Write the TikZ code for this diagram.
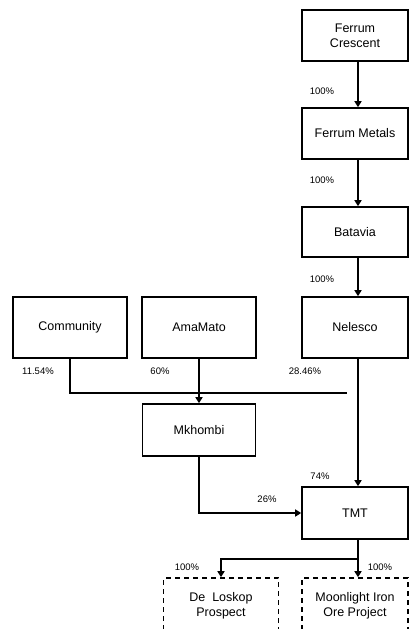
\documentclass[tikz,border=0pt]{standalone}
\usepackage{fontspec}
\setmainfont{Liberation Sans}
\usetikzlibrary{arrows.meta}
\begin{document}
\begin{tikzpicture}[x=1pt,y=-1pt,
  box/.style={draw=black,line width=1.6pt,fill=white,minimum width=106pt,minimum height=51pt,inner sep=1pt,align=center,font=\fontsize{12.5}{15}\selectfont},
  dbox/.style={box,dash pattern=on 5pt off 4pt},
  pct/.style={font=\fontsize{9.5}{11}\selectfont,inner sep=0pt},
  ln/.style={line width=1.6pt},
  arr/.style={ln,-{Triangle[width=7pt,length=6pt]}}]
\useasboundingbox (0,0) rectangle (409,629);
\node[box] (fc) at (355,35.5) {Ferrum\\Crescent};
\node[box] (fm) at (355,133.5) {Ferrum Metals};
\node[box,minimum height=50pt] (bat) at (355,232) {Batavia};
\node[box,minimum height=61pt] (nel) at (355,327.5) {Nelesco};
\node[box,minimum height=61pt,minimum width=114pt] (com) at (70,327.5) {Community};
\node[box,minimum height=61pt,minimum width=114pt] (ama) at (199,327.5) {AmaMato};
\node[box,minimum height=52pt,minimum width=113pt] (mk) at (199,430) {Mkhombi};
\node[box,minimum height=52pt] (tmt) at (355,513) {TMT};
\node[dbox,minimum height=56pt,minimum width=115pt] (dl) at (221,606) {De~~Loskop\\Prospect};
\node[dbox,minimum height=56pt] (moon) at (355,606) {Moonlight Iron\\Ore Project};
\coordinate (cend) at (347,393);
\coordinate (split) at ([xshift=3pt]tmt.south |- 0,559);
\draw[arr] ([xshift=3pt]fc.south) -- ([xshift=3pt]fm.north);
\draw[arr] ([xshift=3pt]fm.south) -- ([xshift=3pt]bat.north);
\draw[arr] ([xshift=3pt]bat.south) -- ([xshift=3pt]nel.north);
\draw[arr] ([xshift=3pt]nel.south) -- ([xshift=3pt]tmt.north);
\draw[ln] (com.south) |- (cend);
\draw[arr] (ama.south) -- (mk.north);
\draw[arr] (mk.south) |- (tmt.west);
\draw[arr] ([xshift=3pt]tmt.south) -- ([xshift=3pt]moon.north);
\draw[arr] (split) -| (dl.north);
\node[pct] (p1) at (322,91) {100\%};
\node[pct] (p2) at (322,180) {100\%};
\node[pct] (p3) at (322,279) {100\%};
\node[pct] (p4) at (38,371) {11.54\%};
\node[pct] (p5) at (160,371) {60\%};
\node[pct] (p6) at (305,371) {28.46\%};
\node[pct] (p7) at (320,476) {74\%};
\node[pct] (p8) at (267,499) {26\%};
\node[pct] (p9) at (187,567) {100\%};
\node[pct] (p10) at (380,567) {100\%};
\end{tikzpicture}
\end{document}
